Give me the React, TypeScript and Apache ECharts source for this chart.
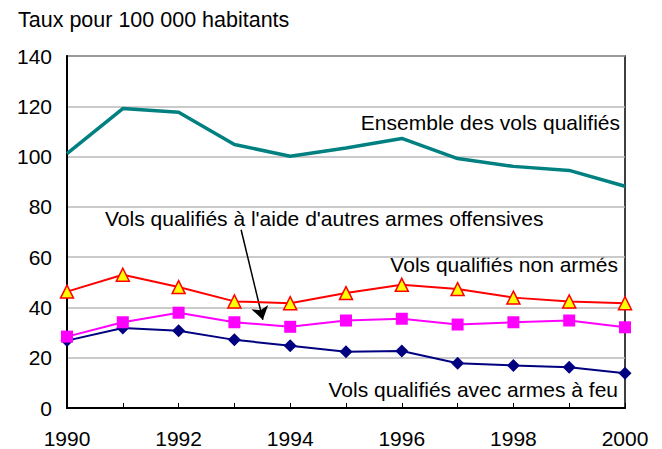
import React, { useEffect, useRef } from "react";
import * as echarts from "echarts";

const years = [1990, 1991, 1992, 1993, 1994, 1995, 1996, 1997, 1998, 1999, 2000];
const ensemble = [101.2, 119.1, 117.6, 104.8, 100.1, 103.4, 107.2, 99.2, 96.1, 94.5, 88.2];
const nonArmes = [46.3, 53.0, 48.1, 42.4, 41.7, 45.7, 49.0, 47.3, 43.9, 42.4, 41.7];
const autresArmes = [28.4, 34.1, 37.9, 34.1, 32.3, 34.8, 35.5, 33.2, 34.1, 34.8, 32.1];
const armesFeu = [26.8, 31.8, 30.7, 27.1, 24.8, 22.4, 22.7, 17.8, 16.9, 16.2, 13.8];
const yTicks = { min: 0, max: 140, interval: 20 };
const arrowFrom = [1993.12, 70.9];
const arrowTo = [1993.51, 35.1];

const FONT = "'Liberation Sans', Arial, sans-serif";

const pairs = (vals: number[]) => years.map((y, i) => [y, vals[i]]);

export default function App() {
  const ref = useRef<HTMLDivElement>(null);
  useEffect(() => {
    if (!ref.current) return;
    const chart = echarts.init(ref.current, null, { renderer: "svg" });
    const textStyle = (extra: any) => ({
      fontFamily: FONT,
      fontSize: 21,
      fill: "#000",
      ...extra,
    });
    chart.setOption({
      animation: false,
      backgroundColor: "#fff",
      grid: {
        left: 67,
        right: 37,
        top: 56,
        bottom: 41,
        show: true,
        borderColor: "#000",
        borderWidth: 1.5,
        backgroundColor: "transparent",
      },
      xAxis: {
        type: "value",
        min: 1990,
        max: 2000,
        interval: 1,
        axisLine: { show: true, lineStyle: { color: "#000", width: 2 } },
        axisTick: { show: true, inside: true, length: 5, lineStyle: { color: "#000", width: 1 } },
        splitLine: { show: false },
        axisLabel: {
          margin: 20,
          fontFamily: FONT,
          fontSize: 21,
          color: "#000",
          formatter: (v: number) => (v % 2 === 0 ? String(v) : ""),
        },
      },
      yAxis: {
        type: "value",
        min: yTicks.min,
        max: yTicks.max,
        interval: yTicks.interval,
        axisLine: { show: true, lineStyle: { color: "#000", width: 2 } },
        axisTick: { show: false },
        splitLine: { show: true, lineStyle: { color: "#b8b8b8", width: 1.5 } },
        axisLabel: { margin: 15, fontFamily: FONT, fontSize: 21, color: "#000" },
      },
      series: [
        {
          type: "line",
          name: "Ensemble des vols qualifiés",
          data: pairs(ensemble),
          showSymbol: false,
          symbol: "none",
          lineStyle: { color: "#008080", width: 3.5 },
          z: 2,
        },
        {
          type: "line",
          name: "Vols qualifiés avec armes à feu",
          data: pairs(armesFeu),
          symbol: "diamond",
          symbolSize: 13,
          itemStyle: { color: "#000080" },
          lineStyle: { color: "#000080", width: 2 },
          z: 3,
        },
        {
          type: "line",
          name: "Vols qualifiés à l'aide d'autres armes offensives",
          data: pairs(autresArmes),
          symbol: "rect",
          symbolSize: 12,
          itemStyle: { color: "#ff00ff" },
          lineStyle: { color: "#ff00ff", width: 2 },
          z: 4,
          markLine: {
            silent: true,
            symbol: ["none", "arrow"],
            symbolSize: 13,
            label: { show: false },
            lineStyle: { color: "#000", width: 1.5, type: "solid" },
            data: [[{ coord: arrowFrom }, { coord: arrowTo }]],
          },
        },
        {
          type: "line",
          name: "Vols qualifiés non armés",
          data: pairs(nonArmes),
          symbol: "triangle",
          symbolSize: 13,
          itemStyle: { color: "#ffff00", borderColor: "#ff0000", borderWidth: 1.5 },
          lineStyle: { color: "#ff0000", width: 2 },
          z: 5,
        },
      ],
      graphic: [
        {
          type: "text",
          left: 18,
          top: 9,
          style: textStyle({ text: "Taux pour 100 000 habitants", fontSize: 21.5 }),
        },
        {
          type: "text",
          x: 620,
          y: 122,
          style: textStyle({ text: "Ensemble des vols qualifiés", textAlign: "right", textVerticalAlign: "middle" }),
        },
        {
          type: "text",
          x: 105,
          y: 218,
          style: textStyle({ text: "Vols qualifiés à l'aide d'autres armes offensives", textAlign: "left", textVerticalAlign: "middle" }),
        },
        {
          type: "text",
          x: 618,
          y: 264,
          style: textStyle({ text: "Vols qualifiés non armés", textAlign: "right", textVerticalAlign: "middle" }),
        },
        {
          type: "text",
          x: 618,
          y: 389,
          style: textStyle({ text: "Vols qualifiés avec armes à feu", textAlign: "right", textVerticalAlign: "middle" }),
        },
      ],
    });
    return () => chart.dispose();
  }, []);
  return <div ref={ref} style={{ width: 662, height: 449, position: "absolute", left: 0, top: 0 }} />;
}
